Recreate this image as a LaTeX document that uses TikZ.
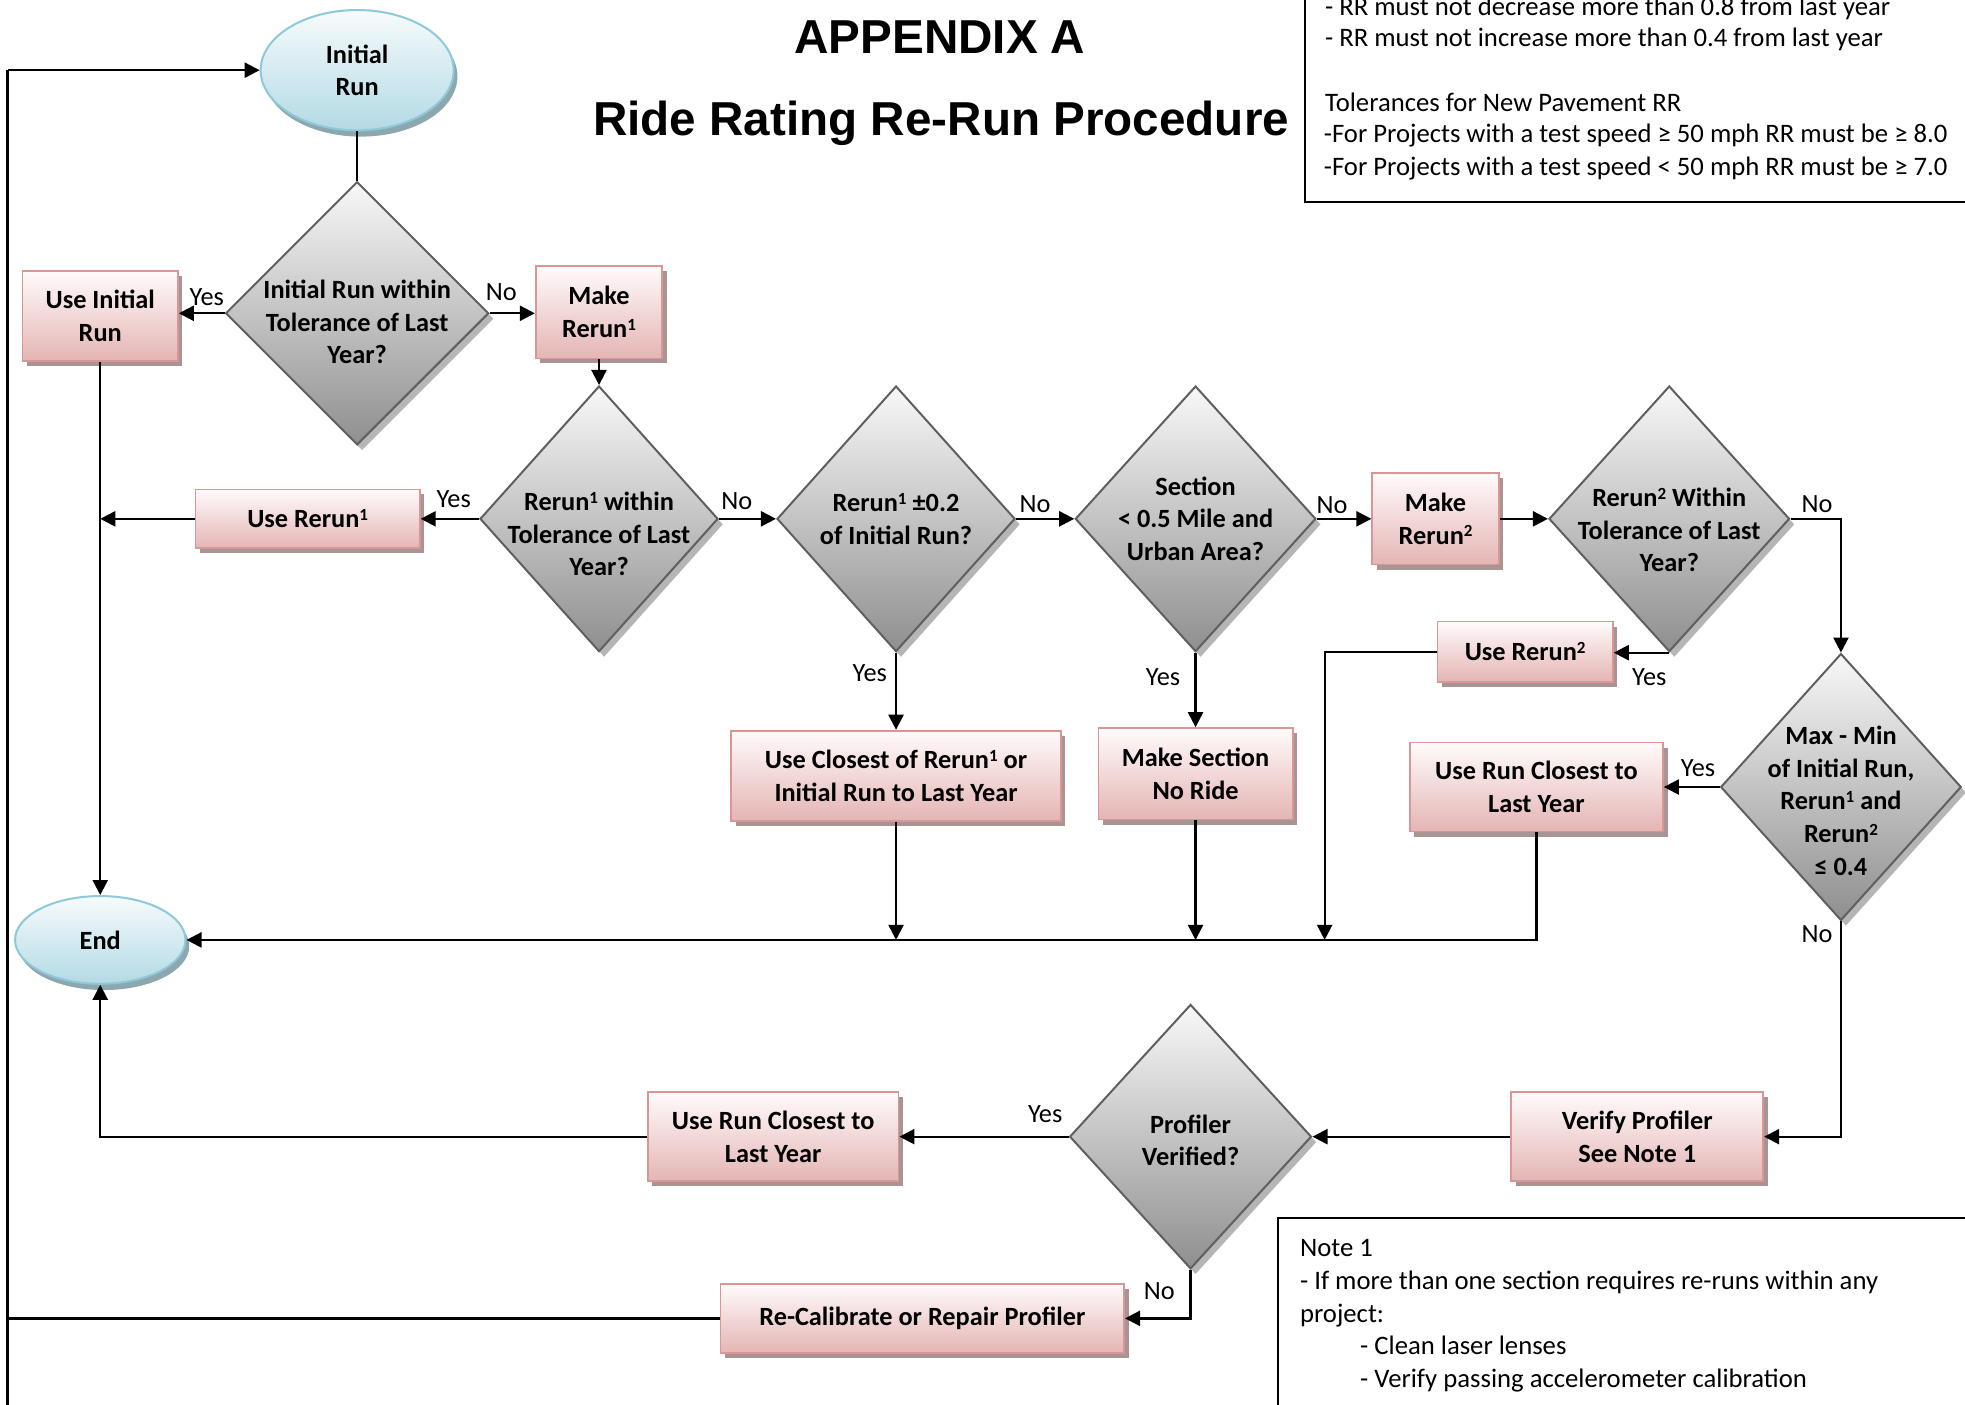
\documentclass[tikz,border=0pt]{standalone}
\usepackage{fontspec}
\setmainfont{Carlito}
\newfontfamily\titlefont{Liberation Sans}
\usetikzlibrary{shapes.geometric,shadows,arrows.meta}

\definecolor{boxtop}{HTML}{FFFBFB}
\definecolor{boxbot}{HTML}{E4B5B4}
\definecolor{boxdraw}{HTML}{D99694}
\definecolor{boxshadow}{HTML}{A99494}
\definecolor{dtop}{HTML}{F8F8F8}
\definecolor{dbot}{HTML}{8F8F8F}
\definecolor{ddraw}{HTML}{5F5F5F}
\definecolor{dshadow}{HTML}{B5B5B5}
\definecolor{etop}{HTML}{F7FBFC}
\definecolor{ebot}{HTML}{B3DAE5}
\definecolor{edraw}{HTML}{8DC9D8}
\definecolor{eshadow}{HTML}{8DA7AE}

\newcommand\mysup[1]{\raisebox{2.9pt}{\fontsize{6.8}{6.8}\selectfont #1}}

\begin{document}
\begin{tikzpicture}[x=0.5pt,y=-0.5pt,
  font=\fontsize{10.5}{13}\selectfont,
  proc/.style={rectangle, draw=boxdraw, line width=0.7pt, top color=boxtop, bottom color=boxbot,
    align=center, font=\fontsize{10.5}{13}\selectfont\bfseries, inner sep=2pt,
    drop shadow={shadow xshift=1.8pt, shadow yshift=-2pt, fill=boxshadow, opacity=1}},
  dec/.style={diamond, draw=ddraw, line width=0.8pt, top color=dtop, bottom color=dbot, inner sep=0pt,
    drop shadow={shadow xshift=2pt, shadow yshift=-2.2pt, fill=dshadow, opacity=1}},
  term/.style={ellipse, draw=edraw, line width=0.8pt, top color=etop, bottom color=ebot,
    align=center, font=\fontsize{10.5}{13}\selectfont\bfseries, inner sep=0pt,
    drop shadow={shadow xshift=1.5pt, shadow yshift=-2.5pt, fill=eshadow, opacity=1}},
  dlabel/.style={align=center, font=\fontsize{10.5}{13}\selectfont\bfseries, inner sep=0pt},
  arr/.style={-{Triangle[length=6pt,width=6pt]}, line width=0.9pt},
  conn/.style={line width=0.9pt},
  lbl/.style={font=\fontsize{10.5}{13}\selectfont, inner sep=0pt},
  note/.style={font=\fontsize{10.65}{13}\selectfont, inner sep=0pt, anchor=base west}
]
\path[use as bounding box, clip] (0,0) rectangle (1568,1121);

% title
\node[font=\titlefont\fontsize{19}{23}\selectfont\bfseries] (title1) at (750,30) {APPENDIX A};
\node[font=\titlefont\fontsize{19}{23}\selectfont\bfseries] (title2) at (751,98) {Ride Rating Re-Run Procedure};

% top-right tolerance box
\draw[line width=0.75pt] (1041,-30) rectangle (1620,161);
\node[note] (t1) at (1057,12) {- RR must not decrease more than 0.8 from last year};
\node[note] (t2) at (1057,37) {- RR must not increase more than 0.4 from last year};
\node[note] (t3) at (1057,89) {Tolerances for New Pavement RR};
\node[note] (t4) at (1056,114) {-For Projects with a test speed ≥ 50 mph RR must be ≥ 8.0};
\node[note] (t5) at (1056,140) {-For Projects with a test speed < 50 mph RR must be ≥ 7.0};

% note box
\draw[line width=0.75pt] (1020,972) rectangle (1620,1200);
\node[note] (m1) at (1037,1003) {Note 1};
\node[note] (m2) at (1037,1029) {- If more than one section requires re-runs within any};
\node[note] (m3) at (1037,1055) {project:};
\node[note] (m4) at (1085,1081) {- Clean laser lenses};
\node[note] (m5) at (1085,1107) {- Verify passing accelerometer calibration};

% terminals
\node[term, minimum width=77pt, minimum height=48pt] (init) at (285,56) {Initial\\Run};
\node[term, minimum width=68pt, minimum height=35pt] (end) at (80,750) {End};

% decisions
\node[dec, minimum width=105pt, minimum height=105pt,
  label={[dlabel,yshift=-3.5pt]center:{Initial Run within\\Tolerance of Last\\Year?}}] (d1) at (285,250) {};
\node[dec, minimum width=95pt, minimum height=106pt,
  label={[dlabel,yshift=-6pt]center:{Rerun\mysup{1} within\\Tolerance of Last\\Year?}}] (d2) at (478,414) {};
\node[dec, minimum width=95pt, minimum height=106pt,
  label={[dlabel]center:{Rerun\mysup{1} ±0.2\\of Initial Run?}}] (d3) at (715,414) {};
\node[dec, minimum width=96pt, minimum height=106pt,
  label={[dlabel]center:{Section\\< 0.5 Mile and\\Urban Area?}}] (d4) at (954,414) {};
\node[dec, minimum width=96pt, minimum height=106pt,
  label={[dlabel,yshift=-4.5pt]center:{Rerun\mysup{2} Within\\Tolerance of Last\\Year?}}] (d5) at (1332,414) {};
\node[dec, minimum width=96pt, minimum height=106.5pt,
  label={[dlabel,yshift=-5.5pt]center:{Max - Min\\of Initial Run,\\Rerun\mysup{1} and\\Rerun\mysup{2}\\≤ 0.4}}] (d6) at (1469,628) {};
\node[dec, minimum width=96.5pt, minimum height=105.5pt,
  label={[dlabel,yshift=-1.5pt]center:{Profiler\\Verified?}}] (d7) at (950,907) {};

% process boxes
\node[proc, minimum width=62pt, minimum height=36pt] (useinit) at (80,252) {Use Initial\\Run};
\node[proc, minimum width=50.5pt, minimum height=37pt] (mk1) at (478,249) {Make\\Rerun\mysup{1}};
\node[proc, minimum width=89.5pt, minimum height=23.5pt] (user1) at (245.5,414) {Use Rerun\mysup{1}};
\node[proc, minimum width=50.5pt, minimum height=36.5pt] (mk2) at (1145.5,414) {Make\\Rerun\mysup{2}};
\node[proc, minimum width=70pt, minimum height=24pt] (user2) at (1217,520) {Use Rerun\mysup{2}};
\node[proc, minimum width=101pt, minimum height=35.5pt] (userc1) at (1226,628) {Use Run Closest to\\Last Year};
\node[proc, minimum width=131.5pt, minimum height=36pt] (useclose) at (715,619) {Use Closest of Rerun\mysup{1} or\\Initial Run to Last Year};
\node[proc, minimum width=77.5pt, minimum height=36.5pt] (noride) at (954,617.5) {Make Section\\No Ride};
\node[proc, minimum width=100.5pt, minimum height=35.5pt] (verify) at (1306.5,907) {Verify Profiler\\See Note 1};
\node[proc, minimum width=100pt, minimum height=35.5pt] (userc2) at (617,907) {Use Run Closest to\\Last Year};
\node[proc, minimum width=161pt, minimum height=27.5pt] (recal) at (736,1052) {Re-Calibrate or Repair Profiler};

% connectors
\draw[conn] (init.south) -- (d1.north);
\draw[arr] (d1.west) -- (d1.west -| useinit.east);
\draw[arr] (d1.east) -- (d1.east -| mk1.west);
\draw[arr] (mk1.south) -- (d2.north);
\draw[arr] (d2.west) -- (user1.east);
\draw[arr] (d2.east) -- (d3.west);
\draw[arr] (d3.east) -- (d4.west);
\draw[arr] (d4.east) -- (mk2.west);
\draw[arr] (mk2.east) -- (d5.west);
\draw[arr] (d5.east) -| (d6.north);
\draw[arr] (d5.south) -- (d5.south -| user2.east);
\draw[arr] (d6.west) -- (userc1.east);
\draw[arr] (d3.south) -- (useclose.north);
\draw[arr] (d4.south) -- (noride.north);
\draw[arr] (useinit.south) -- (end.north);
\draw[arr] (user1.west) -- (user1.west -| useinit.south);
\draw[arr] (useclose.south) -- (useclose.south |- end.east);
\draw[arr] (noride.south) -- (noride.south |- end.east);
\coordinate (j2) at (1057,520);
\draw[arr] (user2.west) -- (j2) -- (j2 |- end.east);
\draw[arr] (userc1.south) |- (end.east);
\draw[arr] (d6.south) |- (verify.east);
\draw[arr] (verify.west) -- (d7.east);
\draw[arr] (d7.west) -- (userc2.east);
\draw[arr] (userc2.west) -| (end.south);
\draw[arr] (d7.south) |- (recal.east);
\coordinate (lt) at (6,56);
\coordinate (lb) at (6,1140);
\draw[conn] (recal.west) -- (recal.west -| lt);
\draw[conn] (lb) -- (lt);
\draw[arr] (lt) -- (init.west);

% yes / no labels
\node[lbl] (y1) at (165,237) {Yes};
\node[lbl] (n1) at (400,233) {No};
\node[lbl] (y2) at (362,398) {Yes};
\node[lbl] (n2) at (588,400) {No};
\node[lbl] (n3) at (826,402) {No};
\node[lbl] (n4) at (1063,403) {No};
\node[lbl] (n5) at (1450,402) {No};
\node[lbl] (y5) at (1316,540) {Yes};
\node[lbl] (y3) at (694,537) {Yes};
\node[lbl] (y4) at (928,540) {Yes};
\node[lbl] (y6) at (1355,613) {Yes};
\node[lbl] (n6) at (1450,745) {No};
\node[lbl] (y7) at (834,889) {Yes};
\node[lbl] (n7) at (925,1030) {No};
\end{tikzpicture}
\end{document}
